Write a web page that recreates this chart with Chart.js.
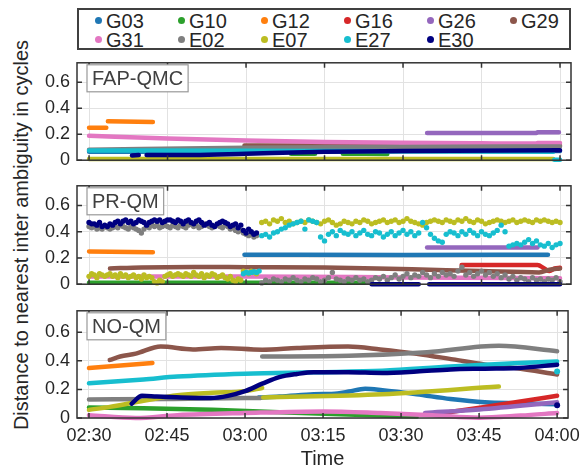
<!DOCTYPE html>
<html>
<head>
<meta charset="utf-8">
<script src="https://cdn.jsdelivr.net/npm/chart.js@4.4.1/dist/chart.umd.min.js"></script>
<style>
  body { margin:0; background:#fff; width:587px; height:473px; position:relative; overflow:hidden;
         font-family:"Liberation Sans", Arial, sans-serif; color:#262626; }
  canvas { position:absolute; left:0; }
  #legend { position:absolute; left:77px; top:8px; width:494px; height:42px; box-sizing:border-box;
            border:2px solid #404040; background:#fff; }
  .item { position:absolute; font-size:20px; line-height:20px; white-space:nowrap; }
  .item i { display:inline-block; width:7px; height:7px; border-radius:50%; margin-right:4px; vertical-align:middle; position:relative; top:-2px; }
  #ytitle { position:absolute; left:21px; top:235px; transform:translate(-50%,-50%) rotate(-90deg);
            font-size:20px; white-space:nowrap; }
</style>
</head>
<body>
<div id="legend"></div>
<div id="ytitle">Distance to nearest inter ambiguity in cycles</div>
<canvas id="fap" width="587" height="133" style="top:45px"></canvas>
<canvas id="pr" width="587" height="134" style="top:168px"></canvas>
<canvas id="no" width="587" height="180" style="top:293px"></canvas>
<script>
'use strict'

// series names + colours (legend order)
const names  = ['G03','G10','G12','G16','G26','G29','G31','E02','E07','E27','E30']
const colors = ['#1f77b4','#2ca02c','#ff7f0e','#d62728','#9467bd','#8c564b','#e377c2','#7f7f7f','#bcbd22','#17becf','#000080']

// x axis: minutes after 02:30
const tickMins   = [0,15,30,45,60,75,90]
const timeLabels = ['02:30','02:45','03:00','03:15','03:30','03:45','04:00']
const yTicks     = [0,0.2,0.4,0.6]

// ---- FAP-QMC : [minute, value], null value = gap
const fapG03 = [[0,0.065],[30,0.065],[60,0.068],[90,0.07]]
const fapG10 = [[38.6,0.05],[43.2,0.05],[45,null],[48.5,0.05],[57,0.048]]
const fapG12 = [[0,0.25],[3.3,0.25],[3.4,null],[3.6,0.30],[12.2,0.295]]
const fapG26 = [[64.6,0.21],[85.5,0.21],[85.6,null],[85.7,0.215],[89.8,0.215]]
const fapG29 = [[29.7,0.113],[60,0.114],[90,0.116]]
const fapG31 = [[0,0.188],[15,0.167],[30,0.152],[45,0.141],[60,0.134],[75,0.13],[85.5,0.128],[85.7,0.133],[90,0.133]]
const fapE02 = [[0,0.08],[30,0.095],[60,0.102],[90,0.106]]
const fapE07 = [[0,0.01],[88.7,0.01]]
const fapE27 = [[0,0.075],[30,0.072],[60,0.068],[88.7,0.065],[88.8,null],[88.9,0.003],[90,0.003]]
const fapE30 = [[8.2,0.037],[9.5,0.04],[9.6,null],[11,0.04],[20,0.04],[30,0.05],[45,0.065],[60,0.07],[90,0.076]]

// ---- PR-QM lines
const prG03 = [[29.7,0.225],[60,0.222],[87.7,0.225]]
const prG10 = [[0,0.012],[52.7,0.012]]
const prG12 = [[0,0.25],[12.2,0.243]]
const prG16 = [[71.2,0.147],[85.7,0.147],[87,0.12],[88,0.1],[89,0.12],[90,0.125]]
const prG26 = [[64.6,0.28],[85.7,0.28]]
const prG29 = [[4,0.12],[10,0.128],[20,0.132],[30,0.13],[45,0.127],[55,0.12],[65,0.11],[75,0.1],[86,0.09],[88,0.11],[90,0.12]]
const prG31 = [[0,0.058],[30,0.058],[60,0.052],[90,0.045]]
const prE30zero = [[54,0],[63,0],[64,null],[65,0],[90,0]]

// ---- PR-QM dots, one value per epoch
const prA0 = 0, prAstep = 0.5        // early part, 02:30-03:02
const prB0 = 33, prBstep = 0.75      // late part, 03:03-04:00
const prE27a0 = 29.5
const prE30a = [0.47,0.46,0.46,0.45,0.47,0.44,0.45,0.44,0.46,
  0.45,0.47,0.48,0.46,0.48,0.49,0.47,0.48, 0.46,0.47,0.49,0.48,0.47,0.45,0.47,0.48,
  0.49,0.48,0.49,0.47,0.48,0.49,0.49,0.48, 0.47,0.49,0.48,0.46,0.48,0.49,0.47,0.46,
  0.48,0.49,0.47,0.45,0.46,0.47,0.45,0.44, 0.46,0.47,0.48,0.47,0.46,0.44,0.45,0.46,
  0.43,0.45,0.41,0.39,0.42,0.40,0.38,0.39]
const prE02a = [0.44,0.43,0.44,0.42,0.43,0.42,0.44,0.43,0.42,
  0.43,0.44,0.43,0.45,0.44,0.43,0.42,0.44, 0.43,0.42,0.41,0.39,0.42,0.44,0.43,0.45,
  0.44,0.45,0.43,0.44,0.45,0.44,0.43,0.45, 0.44,0.43,0.45,0.44,0.43,0.45,0.46,0.44,
  0.45,0.43,0.44,0.46,0.45,0.44,0.43,0.44, 0.45,0.44,0.43,0.45,0.44,0.42,0.43,0.41,
  0.40,0.41,0.39,0.38,0.37,0.38,0.36,0.37]
const prE07a = [0.06,0.08,0.07,0.05,0.08,0.07,0.06,0.07,0.08,
  0.06,0.07,0.05,0.08,0.06,0.07,0.05,0.06, 0.07,0.05,0.06,0.04,0.07,0.05,0.06,0.05,
  0.02,0.01,0.03,0.02,0.06,0.07,0.08,0.06, 0.07,0.08,0.07,0.06,0.08,0.07,0.06,0.09,
  0.07,0.06,0.08,0.05,0.07,0.06,0.08,0.07, 0.05,0.06,0.07,0.05,0.04,0.06,0.03,0.02,
  0.04,0.03,0.10,0.09,0.08,0.10,0.09,0.08]
const prE27a = [0.08,0.09,0.085,0.09,0.095,0.09,0.10]
const prE07b = [0.47,0.48,0.46,0.49,0.48,0.50,0.47,0.48, 0.46,0.47,0.48,0.47,0.49,0.48,0.47,0.46,
  0.48,0.49,0.47,0.45,0.46,0.48,0.47,0.46, 0.48,0.47,0.49,0.48,0.46,0.47,0.48,0.49,
  0.47,0.48,0.49,0.47,0.48,0.50,0.48,0.47, 0.46,0.45,0.47,0.48,0.49,0.48,0.47,0.49,
  0.48,0.47,0.49,0.48,0.50,0.48,0.47,0.49, 0.48,0.46,0.47,0.48,0.49,0.48,0.47,0.48,
  0.49,0.47,0.48,0.49,0.48,0.47,0.49,0.48, 0.49,0.48,0.47,0.48,0.47]
const prE27b = [0.37,0.38,0.36,0.39,0.40,0.42,0.43,0.45, 0.46,0.47,0.48,0.42,0.49,0.48,0.47,0.36,
  0.33,0.38,0.40,0.37,0.41,0.39,0.38,0.40, 0.37,0.39,0.41,0.38,0.37,0.40,0.39,0.36,
  0.38,0.40,0.37,0.39,0.41,0.38,0.40,0.37, 0.39,0.47,0.43,0.38,0.35,0.33,0.32,0.38,
  0.40,0.39,0.37,0.40,0.38,0.41,0.39,0.37, 0.40,0.38,0.37,0.39,0.41,0.45,0.40,0.29,
  0.30,0.31,0.30,0.32,0.34,0.31,0.33,0.30, 0.29,0.31,0.28,0.30,0.31]
const prE02b = [0.01,0.03,0.02,0.04,0.03,0.02,0.04,0.03, 0.05,0.03,0.02,0.04,0.03,0.05,0.04,0.02,
  0.03,0.05,0.09,0.04,0.03,0.02,0.04,0.03, 0.05,0.03,0.04,0.02,0.03,0.05,0.04,0.06,
  0.03,0.05,0.07,0.04,0.06,0.08,0.05,0.07, 0.06,0.09,0.07,0.05,0.08,0.06,0.09,0.07,
  0.08,0.06,0.10,0.13,0.07,0.09,0.06,0.08, 0.10,0.07,0.09,0.06,0.08,0.05,0.07,0.04,
  0.06,0.03,0.05,0.04,0.02,0.05,0.03,0.04, 0.02,0.04,0.03,0.05,0.02]

// ---- NO-QM
const noG03 = [[32.6,0.144],[36.6,0.15],[43.2,0.166],[47.8,0.172],[50,0.185],[53.1,0.205],[56.4,0.195],[63,0.166],[69.5,0.133],[76.1,0.11],[82.7,0.103],[90,0.096]]
const noG10 = [[0,0.074],[10.5,0.068],[23.7,0.057],[36.6,0.04],[49.8,0.024],[63,0.01]]
const noG12 = [[0,0.35],[12.2,0.385]]
const noG16 = [[68.2,0.035],[76.1,0.078],[82,0.11],[90,0.155]]
const noG26 = [[64.6,0.035],[75,0.06],[90,0.11]]
const noG29 = [[4,0.406],[6,0.43],[9,0.45],[13.8,0.5],[20,0.48],[25.4,0.49],[33.3,0.478],[40,0.49],[49.8,0.5],[56,0.48],[63,0.45],[70,0.41],[76,0.375],[82,0.35],[90,0.305]]
const noG31 = [[0,0.02],[9,0.0],[17,0.02],[30,0.035],[45,0.046],[56,0.035],[66,0.02],[75,0.002],[83,0.017],[90,0.035]]
const noE02 = [[0,0.13],[15,0.133],[30,0.14],[33,0.14],[33.2,null],[33.3,0.43],[50,0.435],[65,0.46],[78.8,0.505],[90,0.467]]
const noE07 = [[0,0.057],[4,0.078],[10.5,0.12],[17,0.16],[23.7,0.177],[30,0.188],[33.3,0.21],[33.4,null],[33.5,0.144],[56.4,0.166],[78.8,0.22]]
const noE27 = [[0,0.243],[10.5,0.27],[17,0.29],[30,0.31],[43.2,0.32],[56.4,0.33],[69.5,0.36],[82.7,0.385],[90,0.395]]
const noE30 = [[8.2,0.1],[10.2,0.155],[13,0.15],[16.8,0.145],[23.4,0.14],[26.7,0.155],[30,0.188],[33.3,0.24],[36.6,0.286],[40,0.308],[43.2,0.32],[49.8,0.32],[56.4,0.315],[63,0.325],[69.5,0.34],[76.1,0.345],[82.7,0.35],[90,0.373]]
const noEndDots = { E27: 0.325, E30: 0.09 }

Chart.defaults.font.family = '"Liberation Sans", Arial, sans-serif'
Chart.defaults.color = '#262626'

// legend
const legend = document.getElementById('legend')
names.forEach((n, i) => {
  const d = document.createElement('div')
  d.className = 'item'
  d.style.left = (16 + (i % 6) * 83) + 'px'
  d.style.top = (Math.floor(i / 6) === 0 ? 1 : 20) + 'px'
  d.innerHTML = '<i style="background:' + colors[i] + '"></i>' + n
  legend.appendChild(d)
})

const col = n => colors[names.indexOf(n)]

const line = (name, pts) => ({
  label: name, showLine: true, borderColor: col(name), borderWidth: 4.5,
  pointRadius: 0, cubicInterpolationMode: 'monotone', spanGaps: false, borderCapStyle: 'round',
  data: pts.map(p => ({ x: p[0], y: p[1] }))
})
const dots = (name, vals, t0, step) => ({
  label: name, showLine: false, pointRadius: 2.7, borderWidth: 0,
  backgroundColor: col(name), pointBackgroundColor: col(name),
  data: vals.map((v, i) => ({ x: t0 + i * step, y: v }))
})
const endDot = (name, v) => ({
  label: name, showLine: false, pointRadius: 3, borderWidth: 0,
  pointBackgroundColor: col(name), data: [{ x: 90, y: v }]
})

const framePlugin = {
  id: 'frame',
  afterDatasetsDraw(chart, args, opts) {
    const { ctx, chartArea: a, scales } = chart
    ctx.save()
    ctx.strokeStyle = '#333'
    ctx.lineWidth = 1.5
    ctx.beginPath()
    tickMins.forEach(m => {
      const x = scales.x.getPixelForValue(m)
      ctx.moveTo(x, a.top); ctx.lineTo(x, a.top + 5)
      ctx.moveTo(x, a.bottom); ctx.lineTo(x, a.bottom - 5)
    })
    yTicks.forEach(v => {
      const y = scales.y.getPixelForValue(v)
      ctx.moveTo(a.left, y); ctx.lineTo(a.left + 5, y)
      ctx.moveTo(a.right, y); ctx.lineTo(a.right - 5, y)
    })
    ctx.stroke()
    ctx.strokeRect(a.left, a.top, a.right - a.left, a.bottom - a.top)
    // panel name box
    ctx.font = '20px "Liberation Sans", Arial, sans-serif'
    const w = ctx.measureText(opts.text).width
    const bx = a.left + 10, by = a.top + 2
    ctx.fillStyle = '#fff'
    ctx.fillRect(bx, by, w + 10, 27)
    ctx.strokeStyle = '#999'
    ctx.lineWidth = 1.2
    ctx.strokeRect(bx, by, w + 10, 27)
    ctx.fillStyle = '#404040'
    ctx.textBaseline = 'middle'
    ctx.fillText(opts.text, bx + 5, by + 14.5)
    ctx.restore()
  }
}

function panel(id, text, datasets, bottom) {
  datasets.forEach((d, i) => { d.order = -i; d.clip = 4 })
  return new Chart(document.getElementById(id), {
    type: 'scatter',
    data: { datasets },
    options: {
      responsive: false, animation: false, devicePixelRatio: 1,
      layout: { padding: { top: 10, bottom: bottom ? 0 : 10, left: 0, right: 16 } },
      plugins: { legend: { display: false }, tooltip: { enabled: false }, frame: { text } },
      scales: {
        x: {
          type: 'linear', min: -2.3, max: 92.1,
          afterBuildTicks: s => { s.ticks = tickMins.map(v => ({ value: v })) },
          afterFit: s => { s.height = bottom ? 55 : 0 },
          grid: { color: '#e2e2e2', drawTicks: false },
          border: { display: false },
          ticks: { display: !!bottom, padding: 7, font: { size: 18 },
                   callback: v => timeLabels[tickMins.indexOf(v)] },
          title: { display: !!bottom, text: 'Time', font: { size: 20 }, padding: { top: 0, bottom: 2 } }
        },
        y: {
          min: 0, max: 0.75,
          afterBuildTicks: s => { s.ticks = yTicks.map(v => ({ value: v })) },
          afterFit: s => { s.width = 77 },
          grid: { color: '#e2e2e2', drawTicks: false },
          border: { display: false },
          ticks: { padding: 7, font: { size: 18 }, callback: v => String(v) }
        }
      }
    },
    plugins: [framePlugin]
  })
}

panel('fap', 'FAP-QMC', [
  line('G03', fapG03), line('G10', fapG10), line('G12', fapG12), line('G26', fapG26),
  line('G29', fapG29), line('G31', fapG31), line('E02', fapE02), line('E07', fapE07),
  line('E27', fapE27), line('E30', fapE30)
], false)

panel('pr', 'PR-QM', [
  line('G03', prG03), line('G10', prG10), line('G12', prG12), line('G16', prG16),
  line('G26', prG26), line('G29', prG29), line('G31', prG31),
  dots('E02', prE02a, prA0, prAstep), dots('E02', prE02b, prB0, prBstep),
  dots('E07', prE07a, prA0, prAstep), dots('E07', prE07b, prB0, prBstep),
  dots('E27', prE27a, prE27a0, prAstep), dots('E27', prE27b, prB0, prBstep),
  dots('E30', prE30a, prA0, prAstep), line('E30', prE30zero)
], false)

panel('no', 'NO-QM', [
  line('G03', noG03), line('G10', noG10), line('G12', noG12), line('G16', noG16),
  line('G26', noG26), line('G29', noG29), line('G31', noG31), line('E02', noE02),
  line('E07', noE07), line('E27', noE27), line('E30', noE30),
  endDot('E27', noEndDots.E27), endDot('E30', noEndDots.E30)
], true)
</script>
</body>
</html>
